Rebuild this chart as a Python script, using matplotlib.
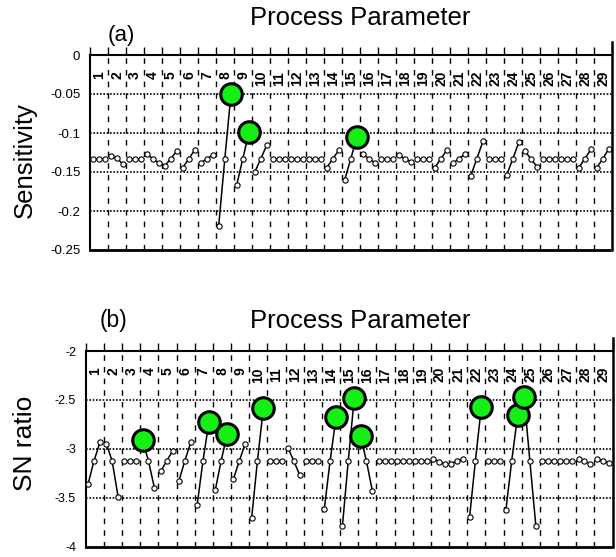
import matplotlib
matplotlib.use('Agg')
import matplotlib.pyplot as plt
import matplotlib.transforms as mtransforms
import numpy as np

plt.rcParams['font.family'] = ['Liberation Sans', 'DejaVu Sans']
plt.rcParams['axes.unicode_minus'] = False

# ---------------- data ----------------
params = list(range(1, 30))
param_labels = [str(p) for p in params]

# (a) Sensitivity, level 1 / 2 / 3 for each process parameter
sens_l1 = [-0.133, -0.1295, -0.133, -0.127, -0.142, -0.1445, -0.1385, -0.2188, -0.1667, -0.1504,
           -0.133, -0.133, -0.133, -0.1445, -0.160, -0.127, -0.133, -0.128, -0.133, -0.1445,
           -0.139, -0.155, -0.133, -0.1538, -0.1227, -0.133, -0.133, -0.1445, -0.1445]
sens_l2 = [-0.133, -0.1325, -0.133, -0.133, -0.133, -0.133, -0.133, -0.133, -0.133, -0.133,
           -0.133, -0.133, -0.133, -0.133, -0.133, -0.133, -0.133, -0.133, -0.133, -0.133,
           -0.133, -0.133, -0.133, -0.133, -0.133, -0.133, -0.133, -0.133, -0.133]
sens_l3 = [-0.133, -0.1397, -0.133, -0.1385, -0.1227, -0.1214, -0.1282, -0.0504, -0.0991, -0.115,
           -0.133, -0.133, -0.133, -0.1218, -0.1047, -0.138, -0.133, -0.137, -0.133, -0.1218,
           -0.127, -0.1107, -0.133, -0.1115, -0.1432, -0.133, -0.133, -0.121, -0.120]
sens_best_params = [8, 9, 15]
sens_best_levels = [3, 3, 3]

# (b) SN ratio, level 1 / 2 / 3 for each process parameter
sn_l1 = [-3.356, -2.947, -3.124, -2.91, -3.230, -3.325, -3.577, -3.42, -3.308, -3.71,
         -3.124, -2.988, -3.124, -3.618, -3.788, -2.869, -3.124, -3.124, -3.124, -3.10,
         -3.15, -3.70, -3.124, -3.625, -2.467, -3.124, -3.124, -3.105, -3.105]
sn_l2 = [-3.124, -3.124, -3.124, -3.124, -3.124, -3.124, -3.124, -3.124, -3.124, -3.124,
         -3.124, -3.124, -3.124, -3.124, -3.124, -3.124, -3.124, -3.124, -3.124, -3.13,
         -3.12, -3.124, -3.124, -3.124, -3.124, -3.124, -3.124, -3.125, -3.12]
sn_l3 = [-2.933, -3.492, -3.124, -3.40, -3.022, -2.933, -2.726, -2.852, -2.947, -2.579,
         -3.124, -3.267, -3.124, -2.678, -2.484, -3.431, -3.124, -3.124, -3.124, -3.155,
         -3.10, -2.569, -3.124, -2.654, -3.788, -3.124, -3.124, -3.15, -3.14]
sn_best_params = [4, 7, 8, 10, 14, 15, 16, 22, 24, 25]
sn_best_levels = [1, 3, 3, 3, 3, 3, 1, 3, 3, 1]

sens_ticks = [0, -0.05, -0.1, -0.15, -0.2, -0.25]
sens_ticklabels = ['0', '-0.05', '-0.1', '-0.15', '-0.2', '-0.25']
sn_ticks = [-2, -2.5, -3, -3.5, -4]
sn_ticklabels = ['-2', '-2.5', '-3', '-3.5', '-4']

GREEN = '#14f014'

fig = plt.figure(figsize=(6.16, 5.57), dpi=100)
W, H = 616, 557

ax_a = fig.add_axes([90 / W, (H - 250) / H, 522 / W, 195 / H])
ax_b = fig.add_axes([85.8 / W, (H - 546.7) / H, 526.7 / W, 195.7 / H])


def draw_panel(ax, l1, l2, l3, best_p, best_l, yticks, yticklabels, ylim,
               offsets, grid_vals, tick_fs):
    n = len(params)
    ax.set_xlim(0, n)
    ax.set_ylim(*ylim)
    # group separators
    for k in range(1, n):
        ax.axvline(k, color='black', lw=1.0, dashes=(4.0, 4.4), zorder=1)
    # horizontal dotted grid
    for g in grid_vals:
        ax.axhline(g, color='black', lw=1.2, ls=(0, (1, 1)), zorder=1)
    # level effects
    for i, p in enumerate(params):
        xs = [p - 1 + o for o in offsets]
        ys = [l1[i], l2[i], l3[i]]
        ax.plot(xs, ys, color='black', lw=1.1, marker='o', ms=3.8,
                mfc='white', mec='black', mew=0.8, zorder=3)
    for p, lv in zip(best_p, best_l):
        i = params.index(p)
        y = [l1[i], l2[i], l3[i]][lv - 1]
        ax.plot([p - 1 + offsets[lv - 1]], [y], marker='o', ms=15.5,
                mfc=GREEN, mec='black', mew=2.2, zorder=5, clip_on=False)
    # group number labels
    trans = mtransforms.blended_transform_factory(ax.transData, ax.transAxes)
    for p, lab in zip(params, param_labels):
        ax.text(p - 0.5, 0.918, lab, rotation=90, ha='center', va='top',
                fontsize=10, fontweight='bold', transform=trans, zorder=4)
    # axes styling
    ax.set_yticks(yticks)
    ax.set_yticklabels(yticklabels, fontsize=tick_fs)
    ax.tick_params(axis='y', length=0, pad=7)
    ax.xaxis.tick_top()
    ax.set_xticks(np.arange(0, n + 1))
    ax.tick_params(axis='x', direction='out', length=6, width=1.0,
                   labeltop=False, labelbottom=False, top=True, bottom=False)
    ax.spines['left'].set_linewidth(1.5)
    ax.spines['top'].set_linewidth(1.5)
    ax.spines['right'].set_visible(False)
    ax.spines['bottom'].set_linestyle((0, (1, 1)))
    ax.spines['bottom'].set_linewidth(2.0)
    ax.plot([1, 1], [0, 1.065], transform=ax.transAxes, color='black',
            lw=1.8, clip_on=False, zorder=6)


draw_panel(ax_a, sens_l1, sens_l2, sens_l3, sens_best_params, sens_best_levels,
           sens_ticks, sens_ticklabels, (-0.25, 0), [0.15, 0.49, 0.83],
           [-0.05, -0.1, -0.15, -0.2], 9.5)
draw_panel(ax_b, sn_l1, sn_l2, sn_l3, sn_best_params, sn_best_levels,
           sn_ticks, sn_ticklabels, (-4, -2), [0.13, 0.45, 0.78],
           [-2.5, -3, -3.5], 9)

# titles / labels
fig.text(360.5 / W, 1 - 25 / H, 'Process Parameter', fontsize=18.5,
         ha='center', va='baseline')
fig.text(360.5 / W, 1 - 328.3 / H, 'Process Parameter', fontsize=18.5,
         ha='center', va='baseline')
fig.text(121 / W, 1 - 36 / H, '(a)', fontsize=16, ha='center', va='center')
fig.text(113.5 / W, 1 - 321 / H, '(b)', fontsize=16.5, ha='center', va='center')
fig.text(25 / W, 1 - 160 / H, 'Sensitivity', fontsize=18.5, rotation=90,
         ha='center', va='center')
fig.text(25 / W, 1 - 443 / H, 'SN ratio', fontsize=19, rotation=90,
         ha='center', va='center')

fig.savefig('out.png', dpi=100)
